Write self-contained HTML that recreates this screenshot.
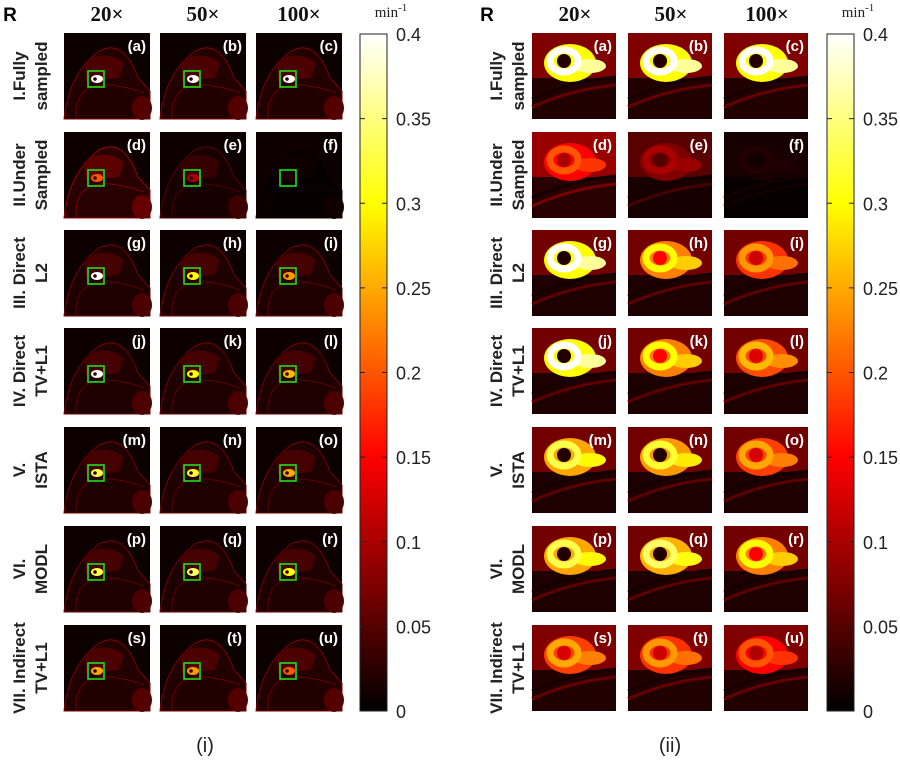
<!DOCTYPE html>
<html><head><meta charset="utf-8">
<style>
html,body{margin:0;padding:0;background:#fff;}
svg{display:block;font-family:"Liberation Sans",sans-serif;}
.rl{font-weight:bold;font-size:17px;fill:#222;}
.hd{font-family:"Liberation Serif",serif;font-weight:bold;font-size:21px;fill:#111;}
.tk{font-size:18px;fill:#222;}
.lab{font-weight:bold;font-size:15px;fill:#fff;}
</style></head>
<body>
<svg id="fig" width="900" height="770" viewBox="0 0 900 770">
<defs>
<linearGradient id="hot" x1="0" y1="1" x2="0" y2="0">
<stop offset="0" stop-color="#000"/>
<stop offset="0.375" stop-color="#f00"/>
<stop offset="0.75" stop-color="#ff0"/>
<stop offset="1" stop-color="#fff"/>
</linearGradient>
</defs>
<g id="panels"></g>
</svg>
<script>
const NS="http://www.w3.org/2000/svg";
const tickValues=[0,0.05,0.1,0.15,0.2,0.25,0.3,0.35,0.4];
const tickLabels=["0","0.05","0.1","0.15","0.2","0.25","0.3","0.35","0.4"];
const colHeaders=["20×","50×","100×"];
const rowLine1=["I.Fully","II.Under","III. Direct","IV. Direct","V.","VI.","VII. Indirect"];
const rowLine2=["sampled","Sampled","L2","TV+L1","ISTA","MODL","TV+L1"];
const letters="abcdefghijklmnopqrstu".split("");
const lesionVal=[0.4,0.4,0.4, 0.2,0.1,0.02, 0.4,0.3,0.24, 0.4,0.3,0.26, 0.33,0.32,0.25, 0.33,0.34,0.3, 0.25,0.24,0.2];
const bgVal=[0.1,0.1,0.1, 0.12,0.07,0.02, 0.09,0.09,0.09, 0.09,0.09,0.09, 0.09,0.09,0.09, 0.09,0.09,0.09, 0.1,0.1,0.1];

function hot(v){let t=Math.max(0,Math.min(1,v/0.4));let r,g,b;
 if(t<0.375){r=t/0.375;g=0;b=0;}else if(t<0.75){r=1;g=(t-0.375)/0.375;b=0;}else{r=1;g=1;b=(t-0.75)/0.25;}
 return `rgb(${Math.round(r*255)},${Math.round(g*255)},${Math.round(b*255)})`;}
function el(tag,attrs,parent,text){const e=document.createElementNS(NS,tag);for(const k in attrs)e.setAttribute(k,attrs[k]);if(text!==undefined)e.textContent=text;(parent||root).appendChild(e);return e;}
const root=document.getElementById('panels');

const rowTops=[33,132,230,328,427,526,625];
const H=86;
function drawPanel(ox,colXs,cbX,isZoom,name){
 const g=el('g',{},root);
 
 
 const t=el('text',{x:ox+10,y:21,'font-size':'19','font-weight':'bold','text-anchor':'middle',fill:'#000'},g,'R');
 
 colHeaders.forEach((h,i)=>{const e=el('text',{x:colXs[i]+43,y:21,'class':'hd','text-anchor':'middle'},g,h);
  });
 rowTops.forEach((y,r)=>{
  const cy=y+H/2;
  const tl=el('text',{transform:`translate(${ox+25},${cy}) rotate(-90)`,'class':'rl','text-anchor':'middle'},g);
  
  el('tspan',{x:0,y:0},tl,rowLine1[r]);el('tspan',{x:0,y:22},tl,rowLine2[r]);
  for(let c=0;c<3;c++){
   const i=r*3+c,x=colXs[c],w=isZoom?84:86;
   const cg=el('g',{},g);
   
   
   if(!isZoom){
    el('rect',{x:x,y:y,width:w,height:H,fill:'#0c0000'},cg);
    el('path',{d:`M${x} ${y+H} Q${x+5} ${y+40} ${x+35} ${y+18} Q${x+60} ${y+5} ${x+74} ${y+45} L${x+86} ${y+58} L${x+86} ${y+H} Z`,fill:hot(bgVal[i]*0.2),stroke:hot(bgVal[i]*0.75),'stroke-width':1},cg);
    el('path',{d:`M${x+12} ${y+H} Q${x+10} ${y+50} ${x+45} ${y+52} Q${x+65} ${y+54} ${x+80} ${y+60}`,fill:'none',stroke:hot(bgVal[i]*0.6),'stroke-width':1},cg);
    el('path',{d:`M${x+20} ${y+30} Q${x+40} ${y+15} ${x+60} ${y+30} L${x+55} ${y+45} L${x+22} ${y+48} Z`,fill:hot(bgVal[i]*0.45)},cg);
    el('ellipse',{cx:x+78,cy:y+75,rx:10,ry:12,fill:hot(bgVal[i]*0.5)},cg);
    el('ellipse',{cx:x+33,cy:y+46,rx:6,ry:4,fill:hot(lesionVal[i])},cg);
    el('circle',{cx:x+31,cy:y+46,r:1.8,fill:'#200'},cg);
    const b=el('rect',{x:x+24,y:y+38,width:16,height:16,fill:'none',stroke:'#1ee01e','stroke-width':1.6},cg);
    
   }else{
    el('rect',{x:x,y:y,width:w,height:H,fill:hot(bgVal[i]*0.2)},cg);
    el('rect',{x:x,y:y,width:w,height:45,fill:hot(bgVal[i]*0.75)},cg);
    el('path',{d:`M${x} ${y+H-12} Q${x+40} ${y+56} ${x+w} ${y+52}`,fill:'none',stroke:hot(bgVal[i]*0.6),'stroke-width':3},cg);
    el('path',{d:`M${x} ${y+H-20} Q${x+40} ${y+48} ${x+w} ${y+44}`,fill:'none',stroke:'#150000','stroke-width':3},cg);
    const lv=lesionVal[i];
    el('ellipse',{cx:x+38,cy:y+30,rx:26,ry:19,fill:hot(lv*0.75)},cg);
    el('ellipse',{cx:x+58,cy:y+33,rx:16,ry:7,fill:hot(lv*0.9)},cg);
    el('ellipse',{cx:x+32,cy:y+28,rx:14,ry:11,fill:'none',stroke:hot(lv),'stroke-width':7},cg);
    el('circle',{cx:x+32,cy:y+28,r:7,fill:lv>0.3?'#200':hot(lv*0.5)},cg);
   }
   const lb=el('text',{x:x+w-4,y:y+18,'class':'lab','text-anchor':'end'},cg,'('+letters[i]+')');
   
  }
 });
 const cb=el('g',{},g);
 
 const top=34,bot=711,cw=27;
 const ys=v=>bot-(v/0.4)*(bot-top);
 el('rect',{x:cbX,y:top,width:cw,height:bot-top,fill:'url(#hot)',stroke:'#222','stroke-width':1},cb);
 tickValues.forEach((v,k)=>{const yy=ys(v);
  el('line',{x1:cbX+cw-5,x2:cbX+cw,y1:yy,y2:yy,stroke:'#222'},cb);
  el('line',{x1:cbX,x2:cbX+5,y1:yy,y2:yy,stroke:'#222'},cb);
  const tt=el('text',{x:cbX+cw+9,y:yy+7,'class':'tk'},cb,tickLabels[k]);
  });
 const u=el('text',{x:cbX+cw+4,y:17,'font-family':'Liberation Serif,serif','font-size':'15',fill:'#222','text-anchor':'middle'},cb);
 
 el('tspan',{},u,'min');el('tspan',{dy:-6,'font-size':'11'},u,'-1');
}
drawPanel(0,[64,160,256],360,false,'panel-i');
drawPanel(477,[532,628,724],827,true,'panel-ii');
const c1=el('text',{x:205,y:752,'font-size':'20','text-anchor':'middle',fill:'#222'},root,'(i)');

const c2=el('text',{x:670,y:752,'font-size':'20','text-anchor':'middle',fill:'#222'},root,'(ii)');

</script>
</body></html>
